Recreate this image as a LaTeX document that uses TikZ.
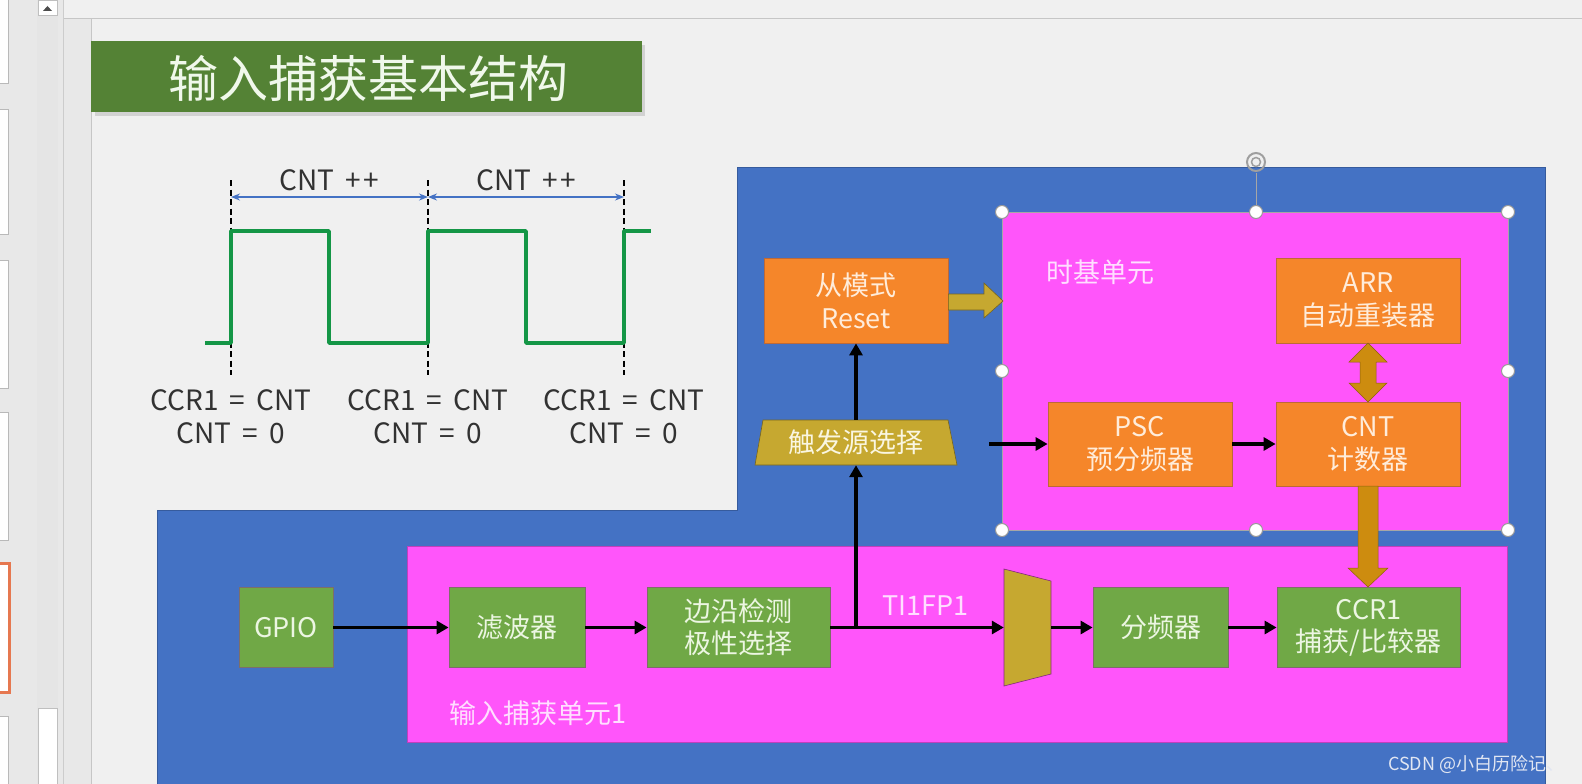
\documentclass[tikz,border=0pt]{standalone}
\usepackage{fontspec}
\setmainfont{Noto Sans CJK SC}
\usetikzlibrary{arrows.meta}
\definecolor{bgc}{RGB}{232,232,232}
\definecolor{slidec}{RGB}{240,240,240}
\definecolor{bluec}{RGB}{68,114,196}
\definecolor{pinkc}{RGB}{255,85,250}
\definecolor{greenc}{RGB}{112,168,70}
\definecolor{greend}{RGB}{125,110,105}
\definecolor{titlec}{RGB}{84,130,53}
\definecolor{orangec}{RGB}{245,134,42}
\definecolor{oranged}{RGB}{190,105,55}
\definecolor{goldc}{RGB}{198,168,48}
\definecolor{darkgold}{RGB}{205,140,15}
\definecolor{wavec}{RGB}{20,150,70}
\definecolor{gtxt}{RGB}{236,246,226}
\definecolor{otxt}{RGB}{255,236,218}
\definecolor{ptxt}{RGB}{255,222,255}
\definecolor{labc}{RGB}{50,50,50}
\newcommand{\wsp}{\hspace{0.4em}}
\tikzset{
  gbox/.style={draw=greend, fill=greenc, text=gtxt, line width=0.8pt, inner sep=0pt, align=center, font=\fontsize{27}{32}\selectfont},
  obox/.style={draw=oranged, fill=orangec, text=otxt, line width=0.8pt, inner sep=0pt, align=center, font=\fontsize{27}{33}\selectfont},
  arr/.style={line width=3.5pt, black, -{Triangle[length=12pt,width=13pt]}},
  plain/.style={line width=3.5pt, black},
  wlab/.style={text=labc, align=center, font=\fontsize{28}{33}\selectfont},
  plab/.style={text=ptxt, font=\fontsize{27}{32}\selectfont, inner sep=0pt},
  handle/.style={fill=white, draw=gray!80, line width=1pt},
}
\begin{document}
\begin{tikzpicture}[x=1pt,y=-1pt]
\useasboundingbox (0,0) rectangle (1582,784);
% window chrome
\fill[bgc] (0,0) rectangle (1582,784);
\fill[slidec] (91,19) rectangle (1582,784);
\draw[gray!45, line width=1pt] (91,19) -- (91,784);
\fill[gray!12] (64,0) rectangle (1582,18);
\draw[gray!45, line width=1pt] (64,19) -- (1582,19);
\draw[gray!40, line width=1pt] (63,0) -- (63,784);
\fill[gray!20] (37,0) rectangle (58,784);
\draw[fill=white, draw=gray!50] (38,0) rectangle (57,15);
\fill[black!70] (43,11) -- (52,11) -- (47.5,6) -- cycle;
\draw[fill=white, draw=gray!50] (38,708) rectangle (57,790);
\foreach \a/\b in {-5/83, 109/234, 260/388, 412/540, 716/800}
  \draw[fill=white, draw=gray!55, line width=1pt] (-5,\a) rectangle (8,\b);
\draw[fill=white, draw={rgb,255:red,230;green,120;blue,80}, line width=3pt] (-5,563) rectangle (9,692);
% title
\fill[gray!35] (95,45) rectangle (645,116);
\node[fill=titlec, minimum width=551pt, minimum height=71pt, inner sep=0pt] (titlebar) at (366.5,76.5) {};
\node[text={rgb,255:red,240;green,248;blue,235}, font=\fontsize{50}{55}\selectfont] (title) at (368,78) {输入捕获基本结构};
% waveform
\foreach \x in {231,428,624}
  \draw[black, line width=2pt, dash pattern=on 6pt off 3.5pt] (\x,180) -- (\x,375);
\draw[wavec, line width=3.5pt, line join=round] (205,343) -- (231,343) -- (231,231) -- (329,231) -- (329,343) -- (428,343) -- (428,231) -- (526,231) -- (526,343) -- (624,343) -- (624,231) -- (651,231);
\coordinate (d1) at (231,197);
\coordinate (d2) at (428,197);
\coordinate (d3) at (624,197);
\draw[bluec, line width=1.4pt, {Stealth[length=9pt,width=7pt]}-{Stealth[length=9pt,width=7pt]}] (d1) -- (d2);
\draw[bluec, line width=1.4pt, {Stealth[length=9pt,width=7pt]}-{Stealth[length=9pt,width=7pt]}] (d2) -- (d3);
\node[wlab] (cpp1) at (329,180) {CNT\wsp+\hspace{0.08em}+};
\node[wlab] (cpp2) at (526,180) {CNT\wsp+\hspace{0.08em}+};
\node[wlab] (e1) at (231,417) {CCR1\wsp=\wsp CNT\\CNT\wsp=\wsp0};
\node[wlab] (e2) at (428,417) {CCR1\wsp=\wsp CNT\\CNT\wsp=\wsp0};
\node[wlab] (e3) at (624,417) {CCR1\wsp=\wsp CNT\\CNT\wsp=\wsp0};
% blue region
\draw[fill=bluec, draw=bluec!80!black, line width=0.8pt] (737,167) -- (1545,167) -- (1545,790) -- (157,790) -- (157,510) -- (737,510) -- cycle;
% pink regions
\draw[fill=pinkc, draw=pinkc!75!black, line width=0.8pt] (407,546) rectangle (1507,742);
\draw[fill=pinkc, draw=gray!70, line width=1pt] (1002,212) rectangle (1508,530);
\node[plab, anchor=west] (tblab) at (1046,272) {时基单元};
\node[plab, anchor=west] (iclab) at (449,713) {输入捕获单元1};
\node[plab, anchor=west] (tilab) at (882,606) {TI1FP1};
% upper blocks
\node[obox, minimum width=184pt, minimum height=85pt] (reset) at (856,300.5) {从模式\\Reset};
\node[obox, minimum width=184pt, minimum height=84pt] (psc) at (1140,444) {PSC\\预分频器};
\node[obox, minimum width=184pt, minimum height=85pt] (arr) at (1368,300.5) {ARR\\自动重装器};
\node[obox, minimum width=184pt, minimum height=84pt] (cnt) at (1368,444) {CNT\\计数器};
\draw[fill=goldc, draw=goldc!60!black, line width=0.6pt] (763,420) -- (948,420) -- (957,465) -- (755,465) -- cycle;
\node[text={rgb,255:red,250;green,246;blue,225}, font=\fontsize{27}{32}\selectfont, minimum width=190pt, minimum height=45pt, inner sep=0pt] (trig) at (856,442.5) {触发源选择};
% block arrows
\draw[fill=goldc, draw=goldc!60!black, line width=0.6pt] (reset.east |- 0,294) -- (984,294) -- (984,283) -- (1003,301) -- (984,318) -- (984,310) -- (reset.east |- 0,310) -- cycle;
\draw[fill=darkgold, draw=darkgold!70!black, line width=0.5pt] (1368,343) -- (1387,362) -- (1376,362) -- (1376,383) -- (1387,383) -- (1368,402) -- (1349,383) -- (1360,383) -- (1360,362) -- (1349,362) -- cycle;
% lower blocks
\node[gbox, minimum width=94pt, minimum height=80pt] (gpio) at (286,627.5) {GPIO};
\node[gbox, minimum width=136pt, minimum height=80pt] (filter) at (517,627.5) {滤波器};
\node[gbox, minimum width=183pt, minimum height=80pt] (edge) at (738.5,627.5) {边沿检测\\极性选择};
\node[gbox, minimum width=135pt, minimum height=80pt] (div) at (1160.5,627.5) {分频器};
\node[gbox, minimum width=183pt, minimum height=80pt] (ccr) at (1368.5,627.5) {CCR1\\捕获/比较器};
\draw[fill=goldc, draw=pinkc!50!black, line width=0.6pt] (1004,569) -- (1051,581) -- (1051,674) -- (1004,686) -- cycle;
\node[minimum width=47pt, minimum height=105pt, inner sep=0pt] (mux) at (1027.5,627.5) {};
\draw[fill=darkgold, draw=darkgold!70!black, line width=0.5pt] (1358,486) -- (1378,486) -- (1378,568) -- (1388,568) -- (1368,587) -- (1348,568) -- (1358,568) -- cycle;
% connectors
\coordinate (jn) at (856,627.5);
\coordinate (pin) at (989,444);
\draw[arr] (gpio) -- (filter);
\draw[arr] (filter) -- (edge);
\draw[plain] (edge.east) -- (jn);
\draw[arr] (jn) -- (mux.west);
\draw[arr] (jn) -- (trig.south);
\draw[arr] (trig.north) -- (reset.south);
\draw[arr] (mux.east) -- (div.west);
\draw[arr] (div) -- (ccr);
\draw[arr] (pin) -- (psc.west);
\draw[arr] (psc) -- (cnt);
% selection handles
\coordinate (rot) at (1256,162);
\draw[gray!70, line width=1pt] (1256,173) -- (1256,212);
\draw[gray!75, line width=2pt] (rot) circle (9pt);
\draw[gray!75, line width=1.5pt] (rot) circle (4.5pt);
\foreach \p in {(1002,212),(1256,212),(1508,212),(1002,371),(1508,371),(1002,530),(1256,530),(1508,530)}
  \draw[handle] \p circle (6.5pt);
% watermark
\node[anchor=west, text={rgb,255:red,225;green,230;blue,242}, font=\fontsize{18}{22}\selectfont, inner sep=0pt] (wm) at (1388,764) {CSDN @小白历险记、};
\end{tikzpicture}
\end{document}
